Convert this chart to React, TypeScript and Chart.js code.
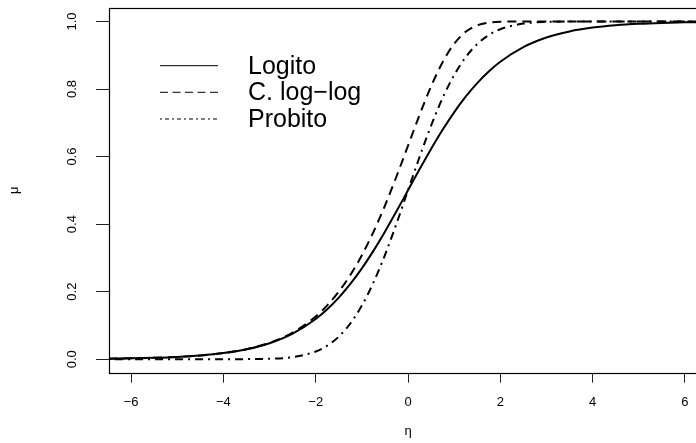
import React, { useEffect, useRef } from "react";
import { Chart, registerables } from "chart.js";

Chart.register(...registerables);

// ---- data ----
const etaValues = [
  -6.5, -6, -5.5, -5, -4.5, -4, -3.5, -3, -2.5, -2, -1.75, -1.5, -1.25, -1, -0.75, -0.5, -0.25,
  0, 0.25, 0.5, 0.75, 1, 1.25, 1.5, 1.75, 2, 2.5, 3, 3.5, 4, 4.5, 5, 5.5, 6, 6.5,
];
const logitValues = [
  0.0015, 0.0025, 0.0041, 0.0067, 0.011, 0.018, 0.0293, 0.0474, 0.0759, 0.1192, 0.148, 0.1824,
  0.2227, 0.2689, 0.3208, 0.3775, 0.4378, 0.5, 0.5622, 0.6225, 0.6792, 0.7311, 0.7773, 0.8176,
  0.852, 0.8808, 0.9241, 0.9526, 0.9707, 0.982, 0.989, 0.9933, 0.9959, 0.9975, 0.9985,
];
const cloglogValues = [
  0.0015, 0.0025, 0.0041, 0.0067, 0.011, 0.0181, 0.0297, 0.0486, 0.0788, 0.1266, 0.1595, 0.2,
  0.2491, 0.3078, 0.3765, 0.4548, 0.541, 0.6321, 0.7231, 0.8077, 0.8796, 0.934, 0.9695, 0.9887,
  0.9968, 0.9994, 1.0, 1.0, 1.0, 1.0, 1.0, 1.0, 1.0, 1.0, 1.0,
];
const probitValues = [
  0.0, 0.0, 0.0, 0.0, 0.0, 0.0, 0.0002, 0.0013, 0.0062, 0.0228, 0.0401, 0.0668, 0.1057, 0.1587,
  0.2266, 0.3085, 0.4013, 0.5, 0.5987, 0.6915, 0.7734, 0.8413, 0.8944, 0.9332, 0.9599, 0.9772,
  0.9938, 0.9987, 0.9998, 1.0, 1.0, 1.0, 1.0, 1.0, 1.0,
];
const seriesLabels = ["Logito", "C. log\u2212log", "Probito"];
const xTicks = [-6, -4, -2, 0, 2, 4, 6];
const yTicks = [0, 0.2, 0.4, 0.6, 0.8, 1.0];
const xTitle = "\u03b7";
const yTitle = "\u03bc";

const FONT = "'Liberation Sans', Arial, Helvetica, sans-serif";

const toPoints = (ys: number[]) => etaValues.map((x, i) => ({ x, y: ys[i] }));

const boxPlugin = {
  id: "rbox",
  afterDraw(chart: any) {
    const { ctx, chartArea } = chart;
    ctx.save();
    ctx.strokeStyle = "#000";
    ctx.lineWidth = 1.2;
    ctx.strokeRect(
      Math.round(chartArea.left) + 0.5,
      Math.round(chartArea.top) + 0.5,
      Math.round(chartArea.right - chartArea.left),
      Math.round(chartArea.bottom - chartArea.top)
    );
    ctx.restore();
  },
};

const legendPlugin = {
  id: "rlegend",
  afterDraw(chart: any) {
    const { ctx } = chart;
    const rows = [65.7, 92.3, 119];
    const dashes = [[], [8, 4.5], [2, 3, 4, 3]];
    ctx.save();
    chart.data.datasets.forEach((ds: any, i: number) => {
      const y = rows[i];
      ctx.beginPath();
      ctx.setLineDash(dashes[i]);
      ctx.lineCap = "butt";
      ctx.lineWidth = 1;
      ctx.strokeStyle = "#000";
      ctx.moveTo(160, y);
      ctx.lineTo(218, y);
      ctx.stroke();
      ctx.setLineDash([]);
      ctx.fillStyle = "#000";
      ctx.font = `25px ${FONT}`;
      ctx.textAlign = "left";
      ctx.textBaseline = "middle";
      ctx.fillText(ds.label, 248, y + 1);
    });
    ctx.restore();
  },
};

export default function App() {
  const ref = useRef<HTMLCanvasElement | null>(null);

  useEffect(() => {
    if (!ref.current) return;
    const chart = new Chart(ref.current, {
      type: "line",
      data: {
        datasets: [
          {
            label: seriesLabels[0],
            data: toPoints(logitValues),
            borderColor: "#000",
            borderWidth: 2,
            pointRadius: 0,
            cubicInterpolationMode: "monotone",
            clip: 0,
          },
          {
            label: seriesLabels[1],
            data: toPoints(cloglogValues),
            borderColor: "#000",
            borderWidth: 2,
            borderDash: [9, 6],
            pointRadius: 0,
            cubicInterpolationMode: "monotone",
            clip: 0,
          },
          {
            label: seriesLabels[2],
            data: toPoints(probitValues),
            borderColor: "#000",
            borderWidth: 2,
            borderDash: [2, 5, 8, 5],
            pointRadius: 0,
            cubicInterpolationMode: "monotone",
            clip: 0,
          },
        ],
      },
      options: {
        responsive: false,
        animation: false,
        events: [],
        layout: { padding: { top: 8, right: 13, left: 0, bottom: 0 } },
        plugins: { legend: { display: false }, tooltip: { enabled: false } },
        scales: {
          x: {
            type: "linear",
            min: -6.48,
            max: 6.48,
            afterBuildTicks: (s: any) => {
              s.ticks = xTicks.map((v) => ({ value: v }));
            },
            afterFit: (s: any) => {
              s.height = 70.3;
              s.paddingLeft = 0;
              s.paddingRight = 0;
              s.paddingTop = 0;
              s.paddingBottom = 0;
            },
            grid: { drawOnChartArea: false, drawTicks: true, tickLength: 10, tickColor: "#222", lineWidth: 1 },
            border: { display: false },
            ticks: {
              autoSkip: false,
              maxRotation: 0,
              padding: 12,
              color: "#000",
              font: { family: FONT, size: 13 },
              callback: (v: any) => (v < 0 ? "\u2212" + Math.abs(v) : String(v)),
            },
            title: {
              display: true,
              text: xTitle,
              color: "#000",
              font: { family: FONT, size: 13 },
              padding: { top: 0, bottom: 4 },
            },
          },
          y: {
            type: "linear",
            min: -0.04,
            max: 1.04,
            afterBuildTicks: (s: any) => {
              s.ticks = yTicks.map((v) => ({ value: v }));
            },
            afterFit: (s: any) => {
              s.width = 109;
              s.paddingTop = 0;
              s.paddingBottom = 0;
              s.paddingLeft = 0;
              s.paddingRight = 0;
            },
            grid: { drawOnChartArea: false, drawTicks: true, tickLength: 13, tickColor: "#222", lineWidth: 1 },
            border: { display: false },
            ticks: {
              autoSkip: false,
              minRotation: 90,
              maxRotation: 90,
              crossAlign: "center",
              padding: 15,
              color: "#000",
              font: { family: FONT, size: 13 },
              callback: (v: any) => Number(v).toFixed(1),
            },
            title: {
              display: true,
              text: yTitle,
              color: "#000",
              font: { family: FONT, size: 13 },
              padding: { top: 7, bottom: 0 },
            },
          },
        },
      },
      plugins: [boxPlugin, legendPlugin],
    } as any);
    return () => chart.destroy();
  }, []);

  return (
    <div
      style={{
        position: "fixed",
        left: 0,
        top: 0,
        width: 696,
        height: 443,
        overflow: "hidden",
        background: "#fff",
      }}
    >
      <canvas ref={ref} width={720} height={443} style={{ display: "block", width: 720, height: 443 }} />
    </div>
  );
}
